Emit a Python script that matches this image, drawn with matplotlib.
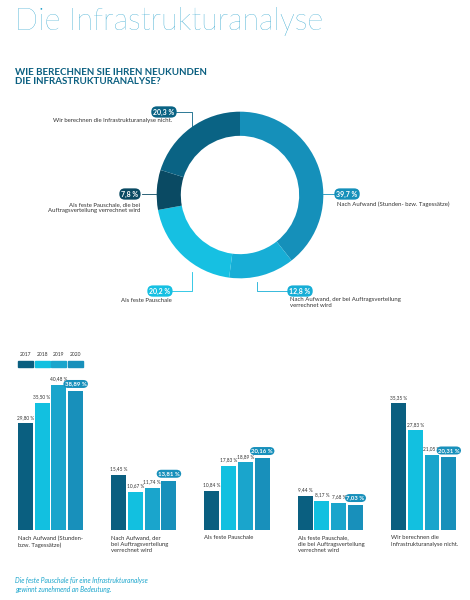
import matplotlib
matplotlib.use("Agg")
import matplotlib.pyplot as plt
import numpy as np

plt.rcParams['font.family'] = ['Lato', 'DejaVu Sans']

donut_labels = ["Nach Aufwand (Stunden- bzw. Tagessätze)",
                "Nach Aufwand, der bei Auftragsverteilung\nverrechnet wird",
                "Als feste Pauschale",
                "Als feste Pauschale, die bei\nAuftragsverteilung verrechnet wird",
                "Wir berechnen die Infrastrukturanalyse nicht."]
donut_values = [39.7, 12.8, 20.2, 7.8, 20.3]
donut_texts = ["39,7 %", "12,8 %", "20,2 %", "7,8 %", "20,3 %"]
donut_colors = ["#1590ba", "#17aed6", "#16c0e2", "#0a4a63", "#0a6384"]

years = ["2017", "2018", "2019", "2020"]
year_colors = ["#0a5f80", "#12c0e0", "#1aa5cc", "#1890bb"]
groups = ["Nach Aufwand (Stunden-\nbzw. Tagessätze)",
          "Nach Aufwand, der\nbei Auftragsverteilung\nverrechnet wird",
          "Als feste Pauschale",
          "Als feste Pauschale,\ndie bei Auftragsverteilung\nverrechnet wird",
          "Wir berechnen die\nInfrastrukturanalyse nicht."]
values = np.array([
    [29.80, 35.50, 40.48, 38.89],
    [15.45, 10.67, 11.74, 13.81],
    [10.84, 17.83, 18.89, 20.16],
    [9.44, 8.17, 7.68, 7.03],
    [35.35, 27.83, 21.05, 20.31],
])

W, H = 470, 600
fig = plt.figure(figsize=(4.7, 6), dpi=100)
fig.patch.set_facecolor("white")

fig.text(15/W, 1-22/H, "Die Infrastrukturanalyse", fontsize=22, color="#1a9cc9",
         va="center", ha="left", fontweight="light")
fig.text(15/W, 1-77/H, "WIE BERECHNEN SIE IHREN NEUKUNDEN\nDIE INFRASTRUKTURANALYSE?",
         fontsize=7, color="#0a5f80", fontweight="bold", va="center", ha="left", linespacing=1.1)

# Donut
cx, cy, R = 240, 195, 200
ax = fig.add_axes([(cx-R/2)/W, 1-(cy+R/2)/H, R/W, R/H])
ax.pie(donut_values, colors=donut_colors, startangle=90, counterclock=False,
       radius=1, wedgeprops=dict(width=0.29, edgecolor="none"))
ax.set_xlim(-1.2, 1.2); ax.set_ylim(-1.2, 1.2); ax.set_aspect("equal")
s = 83.3
def d(px, py):
    return ((px-cx)/s, (cy-py)/s)

def box(px, py, txt, col):
    x, y = d(px, py)
    ax.text(x, y, txt, fontsize=5, fontweight="bold", color="white", ha="center", va="center",
            bbox=dict(boxstyle="round,pad=0.3,rounding_size=0.8", fc=col, ec="none"), clip_on=False)

def line(pts, col):
    xs, ys = zip(*[d(*p) for p in pts])
    ax.plot(xs, ys, color=col, lw=0.6, clip_on=False)

def lab(px, py, txt, ha):
    x, y = d(px, py)
    ax.text(x, y, txt, fontsize=4.3, color="#333333", ha=ha, va="top", clip_on=False, linespacing=1.3)

line([(323, 194), (336, 194)], donut_colors[0]); box(347, 194, donut_texts[0], donut_colors[0])
lab(337, 201, donut_labels[0], "left")
line([(257, 282), (257, 291), (288, 291)], donut_colors[1]); box(300, 291, donut_texts[1], donut_colors[1])
lab(290, 297, donut_labels[1], "left")
line([(192, 272), (192, 291), (172, 291)], donut_colors[2]); box(160, 291, donut_texts[2], donut_colors[2])
lab(172, 298, donut_labels[2], "right")
line([(142, 194), (156, 194)], donut_colors[3]); box(130, 194, donut_texts[3], donut_colors[3])
lab(140, 202, donut_labels[3], "right")
line([(176, 112), (192, 112), (192, 130)], donut_colors[4]); box(164, 112, donut_texts[4], donut_colors[4])
lab(172, 118, donut_labels[4], "right")

# Bars
bx = fig.add_axes([15/W, 1-530/H, 445/W, 145/H])
n = len(groups)
bw = 0.8
pitch = 0.9
xs = np.arange(n) * 5.0
for j in range(4):
    pos = xs + j*pitch
    bx.bar(pos, values[:, j], width=bw, color=year_colors[j], align="edge")
    for i, v in enumerate(values[:, j]):
        t = f"{v:.2f} %".replace(".", ",")
        if j == 3:
            bx.text(pos[i]+bw/2, v+1.2, t, fontsize=4.3, fontweight="bold", color="white",
                    ha="center", va="bottom",
                    bbox=dict(boxstyle="round,pad=0.25,rounding_size=0.8", fc=year_colors[3], ec="none"))
        else:
            bx.text(pos[i]+bw/2, v+1.0, t, fontsize=3.4, color="#333333", ha="center", va="bottom")
    lx = j*pitch
    bx.add_patch(plt.Rectangle((lx, 45.5), bw, 1.8, color=year_colors[j], clip_on=False))
    bx.text(lx+bw/2, 48.3, years[j], fontsize=3.6, color="#333333", ha="center", va="bottom")
for i in range(n):
    bx.text(xs[i], -1.5, groups[i], fontsize=4.2, color="#333333", ha="left", va="top", linespacing=1.3)
bx.set_xlim(-0.15, xs[-1]+4*pitch+0.1)
bx.set_ylim(0, 40.5)
bx.axis("off")

fig.text(15/W, 1-585/H, "Die feste Pauschale für eine Infrastrukturanalyse\ngewinnt zunehmend an Bedeutung.",
         fontsize=4.8, color="#1aa5cc", style="italic", va="center", ha="left", linespacing=1.3)

fig.savefig("out.png", dpi=100, facecolor="white")
